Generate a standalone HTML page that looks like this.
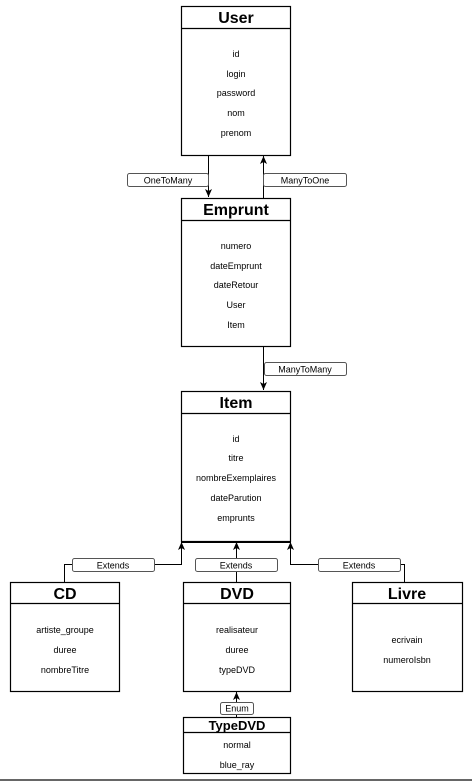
<!DOCTYPE html>
<html><head><meta charset="utf-8"><style>
html,body{margin:0;padding:0;background:#fff;width:472px;height:781px;overflow:hidden}
svg{display:block}
text{font-family:"Liberation Sans",Arial,sans-serif}
.t{font-size:16px;font-weight:bold;text-anchor:middle}
.f{font-size:9px;text-anchor:middle}
.l{font-size:9px;text-anchor:middle}
.b{fill:#fff;stroke:#000;stroke-width:1.2}
.lb{fill:#fff;stroke:#555;stroke-width:1}
.c{stroke:#000;stroke-width:1;fill:none}
</style></head><body>
<svg width="472" height="781" viewBox="0 0 472 781">
<defs><marker id="a" markerWidth="8" markerHeight="8" refX="4" refY="7" orient="auto" markerUnits="userSpaceOnUse"><path d="M0.5,0.5 L4,7 L7.5,0.5 L4,2.5 Z" fill="#000" transform="rotate(180 4 4) translate(0,0)"/></marker>
<marker id="ar" viewBox="0 0 8 8" markerWidth="8" markerHeight="8" refX="8" refY="4" orient="auto" markerUnits="userSpaceOnUse"><path d="M0,0.5 L8,4 L0,7.5 L2,4 Z" fill="#000"/></marker></defs>

<!-- connectors -->
<path class="c" d="M208.5,155 V197" marker-end="url(#ar)"/>
<path class="c" d="M263.5,198 V156" marker-end="url(#ar)"/>
<path class="c" d="M263.5,346 V390" marker-end="url(#ar)"/>
<path class="c" d="M181.5,542.5 H290.5"/>
<path class="c" d="M64.5,582 V564.5 H181.5 V542" marker-end="url(#ar)"/>
<path class="c" d="M236.5,582 V542" marker-end="url(#ar)"/>
<path class="c" d="M404.5,582 V564.5 H290.5 V542" marker-end="url(#ar)"/>
<path class="c" d="M236.5,717 V692" marker-end="url(#ar)"/>

<!-- labels -->
<rect class="lb" x="127.5" y="173.5" width="81" height="13" rx="2"/><text class="l" x="168" y="183.5">OneToMany</text>
<rect class="lb" x="263.5" y="173.5" width="83" height="13" rx="2"/><text class="l" x="305" y="183.5">ManyToOne</text>
<rect class="lb" x="264.5" y="362.5" width="82" height="13" rx="2"/><text class="l" x="305" y="372.5">ManyToMany</text>
<rect class="lb" x="72.5" y="558.5" width="82" height="13" rx="2"/><text class="l" x="113" y="568.5">Extends</text>
<rect class="lb" x="195.5" y="558.5" width="82" height="13" rx="2"/><text class="l" x="236" y="568.5">Extends</text>
<rect class="lb" x="318.5" y="558.5" width="82" height="13" rx="2"/><text class="l" x="359" y="568.5">Extends</text>
<rect class="lb" x="220.5" y="702.5" width="33" height="12" rx="2"/><text class="l" x="237" y="711.5">Enum</text>

<!-- User -->
<rect class="b" x="181.5" y="6.5" width="109" height="149"/><line class="c" x1="181.5" y1="28.5" x2="290.5" y2="28.5" style="stroke-width:1.2"/>
<text class="t" x="236" y="23">User</text>
<text class="f" x="236" y="57">id</text><text class="f" x="236" y="77">login</text><text class="f" x="236" y="96">password</text><text class="f" x="236" y="116">nom</text><text class="f" x="236" y="136">prenom</text>

<!-- Emprunt -->
<rect class="b" x="181.5" y="198.5" width="109" height="148"/><line class="c" x1="181.5" y1="220.5" x2="290.5" y2="220.5" style="stroke-width:1.2"/>
<text class="t" x="236" y="215">Emprunt</text>
<text class="f" x="236" y="249">numero</text><text class="f" x="236" y="269">dateEmprunt</text><text class="f" x="236" y="288">dateRetour</text><text class="f" x="236" y="308">User</text><text class="f" x="236" y="328">Item</text>

<!-- Item -->
<rect class="b" x="181.5" y="391.5" width="109" height="150"/><line class="c" x1="181.5" y1="413.5" x2="290.5" y2="413.5" style="stroke-width:1.2"/>
<text class="t" x="236" y="408">Item</text>
<text class="f" x="236" y="442">id</text><text class="f" x="236" y="461">titre</text><text class="f" x="236" y="481">nombreExemplaires</text><text class="f" x="236" y="501">dateParution</text><text class="f" x="236" y="521">emprunts</text>

<!-- CD -->
<rect class="b" x="10.5" y="582.5" width="109" height="109"/><line class="c" x1="10.5" y1="603.5" x2="119.5" y2="603.5" style="stroke-width:1.2"/>
<text class="t" x="65" y="599">CD</text>
<text class="f" x="65" y="633">artiste_groupe</text><text class="f" x="65" y="653">duree</text><text class="f" x="65" y="673">nombreTitre</text>

<!-- DVD -->
<rect class="b" x="183.5" y="582.5" width="107" height="109"/><line class="c" x1="183.5" y1="603.5" x2="290.5" y2="603.5" style="stroke-width:1.2"/>
<text class="t" x="237" y="599">DVD</text>
<text class="f" x="237" y="633">realisateur</text><text class="f" x="237" y="653">duree</text><text class="f" x="237" y="673">typeDVD</text>

<!-- Livre -->
<rect class="b" x="352.5" y="582.5" width="110" height="109"/><line class="c" x1="352.5" y1="603.5" x2="462.5" y2="603.5" style="stroke-width:1.2"/>
<text class="t" x="407" y="599">Livre</text>
<text class="f" x="407" y="643">ecrivain</text><text class="f" x="407" y="663">numeroIsbn</text>

<!-- TypeDVD -->
<rect class="b" x="183.5" y="717.5" width="107" height="56"/><line class="c" x1="183.5" y1="732.5" x2="290.5" y2="732.5" style="stroke-width:1.2"/>
<text x="237" y="730" style="font-size:13px;font-weight:bold;text-anchor:middle">TypeDVD</text>
<text class="f" x="237" y="748">normal</text><text class="f" x="237" y="768">blue_ray</text>

<line x1="0" y1="780" x2="472" y2="780" stroke="#333" stroke-width="1.5"/>
</svg>
</body></html>
